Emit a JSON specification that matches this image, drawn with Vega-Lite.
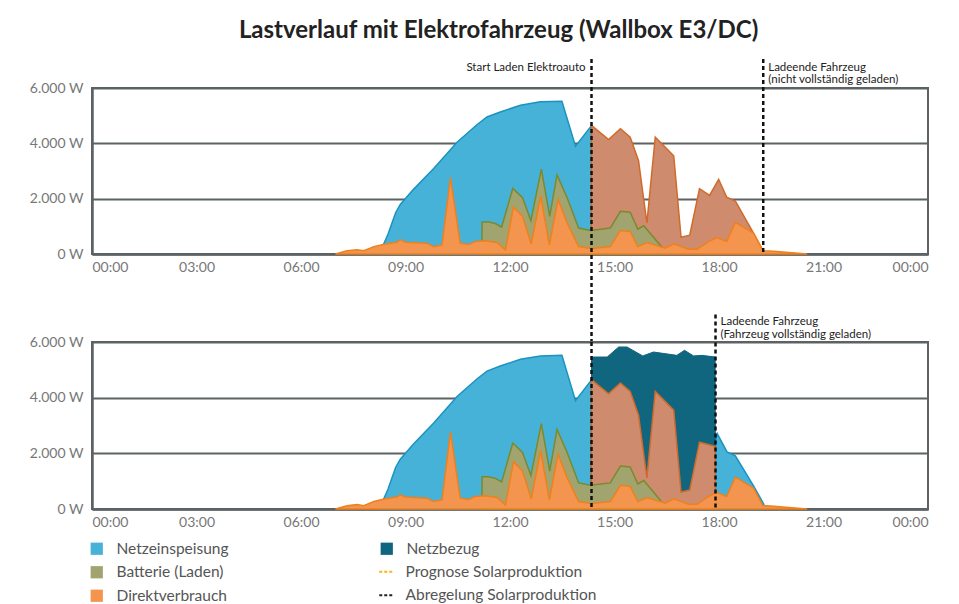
{
  "$schema": "https://vega.github.io/schema/vega-lite/v6.json",
  "background": "white",
  "padding": {"left": 28, "top": 18, "right": 10, "bottom": 0},
  "title": {"text": "Lastverlauf mit Elektrofahrzeug (Wallbox E3/DC)", "font": "Lato", "fontSize": 24, "fontWeight": "bold", "color": "#222222", "anchor": "middle", "offset": 14, "dx": 20},
  "spacing": 88,
  "bounds": "flush",
  "datasets": {
    "einspeisung_oben": [
      {"stunde": 8.28, "watt": 0}, {"stunde": 8.38, "watt": 380}, {"stunde": 8.5, "watt": 720}, {"stunde": 8.62, "watt": 1150}, {"stunde": 8.72, "watt": 1500}, {"stunde": 8.85, "watt": 1790}, {"stunde": 9.23, "watt": 2336}, {"stunde": 9.81, "watt": 3090}, {"stunde": 10.48, "watt": 4040}, {"stunde": 11.05, "watt": 4672}, {"stunde": 11.34, "watt": 4953}, {"stunde": 11.72, "watt": 5135}, {"stunde": 12.3, "watt": 5377}, {"stunde": 12.87, "watt": 5500}, {"stunde": 13.49, "watt": 5523}, {"stunde": 13.88, "watt": 3894}, {"stunde": 14.34, "watt": 4640}, {"stunde": 14.35, "watt": 0}
    ],
    "einspeisung_unten": [
      {"stunde": 8.28, "watt": 0}, {"stunde": 8.38, "watt": 380}, {"stunde": 8.5, "watt": 720}, {"stunde": 8.62, "watt": 1150}, {"stunde": 8.72, "watt": 1500}, {"stunde": 8.85, "watt": 1790}, {"stunde": 9.23, "watt": 2336}, {"stunde": 9.81, "watt": 3090}, {"stunde": 10.48, "watt": 4040}, {"stunde": 11.05, "watt": 4672}, {"stunde": 11.34, "watt": 4953}, {"stunde": 11.72, "watt": 5135}, {"stunde": 12.3, "watt": 5377}, {"stunde": 12.87, "watt": 5500}, {"stunde": 13.49, "watt": 5523}, {"stunde": 13.88, "watt": 3894}, {"stunde": 14.34, "watt": 4640}, {"stunde": 14.35, "watt": 0}, {"stunde": 17.89, "watt": 0}, {"stunde": 17.9, "watt": 2450}, {"stunde": 17.95, "watt": 2710}, {"stunde": 18.23, "watt": 2050}, {"stunde": 18.47, "watt": 1910}, {"stunde": 19.0, "watt": 810}, {"stunde": 19.28, "watt": 190}, {"stunde": 19.32, "watt": 0}
    ],
    "netzbezug": [
      {"stunde": 14.33, "watt": 0}, {"stunde": 14.34, "watt": 5460}, {"stunde": 14.79, "watt": 5460}, {"stunde": 15.12, "watt": 5820}, {"stunde": 15.36, "watt": 5820}, {"stunde": 15.81, "watt": 5500}, {"stunde": 16.12, "watt": 5640}, {"stunde": 16.79, "watt": 5520}, {"stunde": 17.01, "watt": 5700}, {"stunde": 17.27, "watt": 5500}, {"stunde": 17.51, "watt": 5520}, {"stunde": 17.89, "watt": 5460}, {"stunde": 17.9, "watt": 0}
    ],
    "laden_oben": [
      {"stunde": 14.33, "watt": 0}, {"stunde": 14.34, "watt": 4648}, {"stunde": 14.83, "watt": 4137}, {"stunde": 15.17, "watt": 4526}, {"stunde": 15.45, "watt": 4222}, {"stunde": 15.69, "watt": 3370}, {"stunde": 15.93, "watt": 1120}, {"stunde": 16.17, "watt": 4222}, {"stunde": 16.7, "watt": 3552}, {"stunde": 16.91, "watt": 610}, {"stunde": 17.16, "watt": 682}, {"stunde": 17.44, "watt": 2360}, {"stunde": 17.73, "watt": 2117}, {"stunde": 17.99, "watt": 2700}, {"stunde": 18.22, "watt": 2056}, {"stunde": 18.47, "watt": 1910}, {"stunde": 18.99, "watt": 755}, {"stunde": 19.26, "watt": 122}, {"stunde": 19.3, "watt": 0}
    ],
    "laden_unten": [
      {"stunde": 14.33, "watt": 0}, {"stunde": 14.34, "watt": 4648}, {"stunde": 14.83, "watt": 4137}, {"stunde": 15.17, "watt": 4526}, {"stunde": 15.45, "watt": 4222}, {"stunde": 15.69, "watt": 3370}, {"stunde": 15.93, "watt": 1120}, {"stunde": 16.17, "watt": 4222}, {"stunde": 16.7, "watt": 3552}, {"stunde": 16.91, "watt": 610}, {"stunde": 17.16, "watt": 682}, {"stunde": 17.44, "watt": 2400}, {"stunde": 17.89, "watt": 2250}, {"stunde": 17.9, "watt": 0}
    ],
    "batterie": [
      {"stunde": 11.19, "watt": 0}, {"stunde": 11.2, "watt": 1157}, {"stunde": 11.39, "watt": 1157}, {"stunde": 11.58, "watt": 1100}, {"stunde": 11.76, "watt": 975}, {"stunde": 12.08, "watt": 2370}, {"stunde": 12.36, "watt": 2032}, {"stunde": 12.6, "watt": 1205}, {"stunde": 12.9, "watt": 3066}, {"stunde": 13.14, "watt": 1363}, {"stunde": 13.35, "watt": 2860}, {"stunde": 13.64, "watt": 2032}, {"stunde": 13.97, "watt": 937}, {"stunde": 14.31, "watt": 851}, {"stunde": 14.88, "watt": 937}, {"stunde": 15.17, "watt": 1545}, {"stunde": 15.45, "watt": 1510}, {"stunde": 15.67, "watt": 900}, {"stunde": 15.84, "watt": 1022}, {"stunde": 16.37, "watt": 230}, {"stunde": 16.38, "watt": 0}
    ],
    "direkt": [
      {"stunde": 6.99, "watt": 0}, {"stunde": 7.32, "watt": 120}, {"stunde": 7.61, "watt": 157}, {"stunde": 7.8, "watt": 120}, {"stunde": 8.09, "watt": 267}, {"stunde": 8.42, "watt": 365}, {"stunde": 8.75, "watt": 427}, {"stunde": 8.85, "watt": 510}, {"stunde": 9.0, "watt": 427}, {"stunde": 9.62, "watt": 390}, {"stunde": 9.81, "watt": 267}, {"stunde": 10.05, "watt": 329}, {"stunde": 10.29, "watt": 2763}, {"stunde": 10.57, "watt": 390}, {"stunde": 10.81, "watt": 340}, {"stunde": 11.0, "watt": 450}, {"stunde": 11.29, "watt": 475}, {"stunde": 11.63, "watt": 415}, {"stunde": 11.87, "watt": 146}, {"stunde": 12.1, "watt": 1700}, {"stunde": 12.36, "watt": 1363}, {"stunde": 12.61, "watt": 365}, {"stunde": 12.88, "watt": 2093}, {"stunde": 13.13, "watt": 329}, {"stunde": 13.38, "watt": 1971}, {"stunde": 13.64, "watt": 1120}, {"stunde": 13.97, "watt": 267}, {"stunde": 14.34, "watt": 195}, {"stunde": 14.88, "watt": 267}, {"stunde": 15.17, "watt": 851}, {"stunde": 15.45, "watt": 815}, {"stunde": 15.67, "watt": 267}, {"stunde": 15.93, "watt": 414}, {"stunde": 16.46, "watt": 207}, {"stunde": 16.7, "watt": 365}, {"stunde": 17.13, "watt": 170}, {"stunde": 17.37, "watt": 170}, {"stunde": 17.7, "watt": 450}, {"stunde": 17.94, "watt": 596}, {"stunde": 18.22, "watt": 450}, {"stunde": 18.47, "watt": 1143}, {"stunde": 18.99, "watt": 755}, {"stunde": 19.26, "watt": 122}, {"stunde": 19.57, "watt": 100}, {"stunde": 20.53, "watt": 0}
    ]
  },
  "vconcat": [
    {
      "width": 836,
      "height": 166,
      "encoding": {
        "x": {"field": "stunde", "type": "quantitative", "scale": {"domain": [0, 24], "nice": false, "zero": false},
              "axis": {"title": null, "values": [0, 3, 6, 9, 12, 15, 18, 21, 24], "grid": false, "ticks": false, "labelPadding": 6,
                       "labelExpr": "(datum.value % 24 < 10 ? '0' : '') + (datum.value % 24) + ':00'"}}
      },
      "layer": [
        {"data": {"name": "einspeisung_oben"}, "mark": {"type": "area", "stroke": "#1b92c2", "strokeWidth": 1.5, "opacity": 1},
         "encoding": {
           "y": {"field": "watt", "type": "quantitative", "stack": null, "scale": {"domain": [0, 6000], "nice": false},
                 "axis": {"title": null, "values": [0, 2000, 4000, 6000], "grid": true, "ticks": false, "labelPadding": 9,
                          "labelExpr": "replace(format(datum.value, ','), ',', '.') + ' W'"}},
           "fill": {"datum": "Netzeinspeisung", "type": "nominal",
             "scale": {"domain": ["Netzeinspeisung", "Batterie (Laden)", "Direktverbrauch"], "range": ["#47b2d8", "#a2a46f", "#f3954f"]},
             "legend": {"title": null, "orient": "none", "legendX": -3, "legendY": 453, "rowPadding": 6.5,
                        "symbolType": "square", "symbolSize": 150, "symbolStrokeWidth": 0, "labelFont": "Lato", "labelFontSize": 15.5, "labelColor": "#555555", "labelOffset": 12, "labelLimit": 300}}}},
        {"data": {"name": "laden_oben"}, "mark": {"type": "area", "fill": "#cf8b6e", "stroke": "#d06a2a", "strokeWidth": 1.5, "opacity": 1},
         "encoding": {"y": {"field": "watt", "type": "quantitative", "stack": null}}},
        {"data": {"name": "batterie"}, "mark": {"type": "area", "stroke": "#7a8a2c", "strokeWidth": 1.5, "opacity": 1},
         "encoding": {"y": {"field": "watt", "type": "quantitative", "stack": null}, "fill": {"datum": "Batterie (Laden)", "type": "nominal"}}},
        {"data": {"name": "direkt"}, "mark": {"type": "area", "stroke": "#ef801b", "strokeWidth": 1.5, "opacity": 1},
         "encoding": {"y": {"field": "watt", "type": "quantitative", "stack": null}, "fill": {"datum": "Direktverbrauch", "type": "nominal"}}},
        {"data": {"values": [{"stunde": 14.34}]}, "mark": {"type": "rule", "color": "#111111", "strokeWidth": 2.5, "strokeDash": [4, 3]},
         "encoding": {"y": {"datum": 7050}, "y2": {"datum": -3200}}},
        {"data": {"values": [{"stunde": 19.27}]}, "mark": {"type": "rule", "color": "#111111", "strokeWidth": 2.5, "strokeDash": [4, 3]},
         "encoding": {"y": {"datum": 7050}, "y2": {"datum": 0}}},
        {"data": {"values": []}, "mark": {"type": "rule", "strokeWidth": 1.5},
         "encoding": {"y": {"datum": 0}, "stroke": {"datum": "Prognose Solarproduktion", "type": "nominal",
           "scale": {"domain": ["Prognose Solarproduktion", "Abregelung Solarproduktion"], "range": ["#fbb416", "#222222"]},
           "legend": {"title": null, "orient": "none", "legendX": 286, "legendY": 476, "rowPadding": 6.5,
                      "symbolType": "stroke", "symbolSize": 169, "symbolStrokeWidth": 1.8, "symbolDash": [3, 2], "labelFont": "Lato", "labelFontSize": 15.5, "labelColor": "#555555", "labelOffset": 12, "labelLimit": 300}}}},
        {"data": {"values": []}, "mark": {"type": "rule", "strokeWidth": 1.5},
         "encoding": {"y": {"datum": 0}, "stroke": {"datum": "Abregelung Solarproduktion", "type": "nominal"}}},
        {"data": {"values": [{"stunde": 14.34, "text": "Start Laden Elektroauto"}]},
         "mark": {"type": "text", "align": "right", "baseline": "top", "dx": -6, "font": "Lato", "fontSize": 11.5, "color": "#222222"},
         "encoding": {"y": {"datum": 6950}, "text": {"field": "text"}}},
        {"data": {"values": [{"stunde": 19.27, "text": "Ladeende Fahrzeug\n(nicht vollständig geladen)"}]},
         "mark": {"type": "text", "align": "left", "baseline": "top", "dx": 5, "font": "Lato", "fontSize": 11.5, "lineHeight": 12, "lineBreak": "\n", "color": "#222222"},
         "encoding": {"y": {"datum": 6950}, "text": {"field": "text"}}}
      ]
    },
    {
      "width": 836,
      "height": 167,
      "encoding": {
        "x": {"field": "stunde", "type": "quantitative", "scale": {"domain": [0, 24], "nice": false, "zero": false},
              "axis": {"title": null, "values": [0, 3, 6, 9, 12, 15, 18, 21, 24], "grid": false, "ticks": false, "labelPadding": 6,
                       "labelExpr": "(datum.value % 24 < 10 ? '0' : '') + (datum.value % 24) + ':00'"}}
      },
      "layer": [
        {"data": {"name": "einspeisung_unten"}, "mark": {"type": "area", "stroke": "#1b92c2", "strokeWidth": 1.5, "opacity": 1},
         "encoding": {
           "y": {"field": "watt", "type": "quantitative", "stack": null, "scale": {"domain": [0, 6000], "nice": false},
                 "axis": {"title": null, "values": [0, 2000, 4000, 6000], "grid": true, "ticks": false, "labelPadding": 9,
                          "labelExpr": "replace(format(datum.value, ','), ',', '.') + ' W'"}},
           "fill": {"datum": "Netzeinspeisung", "type": "nominal"}}},
        {"data": {"name": "netzbezug"}, "mark": {"type": "area", "stroke": "#10657f", "strokeWidth": 1, "opacity": 1},
         "encoding": {"y": {"field": "watt", "type": "quantitative", "stack": null},
           "color": {"datum": "Netzbezug", "type": "nominal", "scale": {"domain": ["Netzbezug"], "range": ["#10657f"]},
             "legend": {"title": null, "orient": "none", "legendX": 287, "legendY": 453,
                        "symbolType": "square", "symbolSize": 150, "symbolStrokeWidth": 0, "labelFont": "Lato", "labelFontSize": 15.5, "labelColor": "#555555", "labelOffset": 12, "labelLimit": 300}}}},
        {"data": {"name": "laden_unten"}, "mark": {"type": "area", "fill": "#cf8b6e", "stroke": "#d06a2a", "strokeWidth": 1.5, "opacity": 1},
         "encoding": {"y": {"field": "watt", "type": "quantitative", "stack": null}}},
        {"data": {"name": "batterie"}, "mark": {"type": "area", "stroke": "#7a8a2c", "strokeWidth": 1.5, "opacity": 1},
         "encoding": {"y": {"field": "watt", "type": "quantitative", "stack": null}, "fill": {"datum": "Batterie (Laden)", "type": "nominal"}}},
        {"data": {"name": "direkt"}, "mark": {"type": "area", "stroke": "#ef801b", "strokeWidth": 1.5, "opacity": 1},
         "encoding": {"y": {"field": "watt", "type": "quantitative", "stack": null}, "fill": {"datum": "Direktverbrauch", "type": "nominal"}}},
        {"data": {"values": [{"stunde": 14.34}]}, "mark": {"type": "rule", "color": "#111111", "strokeWidth": 2.5, "strokeDash": [4, 3]},
         "encoding": {"y": {"datum": 6000}, "y2": {"datum": 0}}},
        {"data": {"values": [{"stunde": 17.9}]}, "mark": {"type": "rule", "color": "#111111", "strokeWidth": 2.5, "strokeDash": [4, 3]},
         "encoding": {"y": {"datum": 6990}, "y2": {"datum": 0}}},
        {"data": {"values": [{"stunde": 17.9, "text": "Ladeende Fahrzeug\n(Fahrzeug vollständig geladen)"}]},
         "mark": {"type": "text", "align": "left", "baseline": "top", "dx": 5, "font": "Lato", "fontSize": 11.5, "lineHeight": 13, "lineBreak": "\n", "color": "#222222"},
         "encoding": {"y": {"datum": 6950}, "text": {"field": "text"}}}
      ]
    }
  ],
  "config": {
    "view": {"stroke": "#5d6264", "strokeWidth": 2},
    "axis": {"domainColor": "#5d6264", "domainWidth": 2.5, "gridColor": "#5d6264", "gridWidth": 2, "labelFont": "Lato", "labelFontSize": 14, "labelColor": "#777777"}
  }
}
